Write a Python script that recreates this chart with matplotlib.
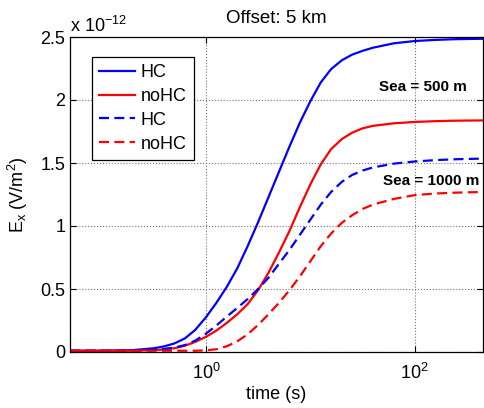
import matplotlib
matplotlib.use("Agg")
import matplotlib.pyplot as plt

# Transient Ex response, offset 5 km (values in units of 1e-12 V/m^2)
time_s = [0.05, 0.1, 0.2, 0.32, 0.4, 0.5, 0.63, 0.79, 1, 1.26, 1.58, 2, 2.51,
          3.16, 3.98, 5.01, 6.31, 7.94, 10, 12.6, 15.8, 20, 25.1, 31.6, 39.8,
          63.1, 100, 158, 251, 450]

hc_500 = [0.01, 0.01, 0.015, 0.03, 0.045, 0.068, 0.108, 0.175, 0.275, 0.39,
          0.515, 0.665, 0.84, 1.03, 1.23, 1.43, 1.63, 1.82, 1.99, 2.14, 2.245,
          2.315, 2.36, 2.39, 2.415, 2.45, 2.468, 2.477, 2.483, 2.486]
nohc_500 = [0.01, 0.01, 0.01, 0.015, 0.02, 0.03, 0.05, 0.08, 0.12, 0.17, 0.23,
            0.3, 0.38, 0.49, 0.63, 0.79, 0.96, 1.15, 1.33, 1.49, 1.61, 1.69,
            1.74, 1.775, 1.795, 1.815, 1.826, 1.832, 1.836, 1.838]
hc_1000 = [0.01, 0.01, 0.012, 0.018, 0.025, 0.035, 0.055, 0.09, 0.145, 0.21,
           0.28, 0.35, 0.42, 0.5, 0.59, 0.7, 0.81, 0.93, 1.05, 1.17, 1.27,
           1.35, 1.405, 1.44, 1.465, 1.495, 1.512, 1.523, 1.53, 1.535]
nohc_1000 = [0.01, 0.01, 0.01, 0.01, 0.01, 0.01, 0.01, 0.01, 0.013, 0.022,
             0.045, 0.085, 0.14, 0.215, 0.3, 0.39, 0.49, 0.6, 0.72, 0.84, 0.94,
             1.025, 1.085, 1.135, 1.17, 1.215, 1.245, 1.258, 1.265, 1.27]

y_ticks = [0, 0.5, 1, 1.5, 2, 2.5]
y_tick_labels = ["0", "0.5", "1", "1.5", "2", "2.5"]
x_ticks = [1, 100]

plt.rcParams["font.family"] = ["Liberation Sans", "DejaVu Sans"]
plt.rcParams["mathtext.fontset"] = "custom"
plt.rcParams["mathtext.rm"] = "Liberation Sans"
plt.rcParams["mathtext.it"] = "Liberation Sans"

fig = plt.figure(figsize=(4.85, 4.08), dpi=100)
ax = fig.add_axes([70 / 485, 1 - 352 / 408, 413 / 485, 315 / 408])

lw = 1.6
dash = (0, (4.5, 2.4))
ax.plot(time_s, hc_500, color=(0, 0, 1), lw=lw, label="HC")
ax.plot(time_s, nohc_500, color=(1, 0, 0), lw=lw, label="noHC")
ax.plot(time_s, hc_1000, color=(0, 0, 1), lw=lw, ls=dash, label="HC")
ax.plot(time_s, nohc_1000, color=(1, 0, 0), lw=lw, ls=dash, label="noHC")

ax.set_xscale("log")
ax.set_xlim(0.05, 450)
ax.set_ylim(0, 2.5)
ax.set_xticks(x_ticks)
ax.minorticks_off()
ax.set_yticks(y_ticks)
ax.set_yticklabels(y_tick_labels)
ax.tick_params(direction="in", top=True, right=True, length=4, labelsize=13,
               width=0.8)
ax.tick_params(axis="x", pad=8)
for s in ax.spines.values():
    s.set_linewidth(0.9)

ax.grid(True, ls=":", color="0.45", lw=0.8)

ax.set_xlabel("time (s)", fontsize=13, labelpad=2)
ax.set_ylabel("E$_\\mathregular{x}$ (V/m$^2$)", fontsize=13, labelpad=7)
ax.set_title("Offset: 5 km", fontsize=13.5, pad=10)
ax.text(0.0, 1.016, "x 10$^{-12}$", transform=ax.transAxes, fontsize=13,
        ha="left", va="baseline")

# depth labels
ax.text(45, 2.10, "Sea = 500 m", fontsize=11, fontweight="bold", va="center")
ax.text(50, 1.357, "Sea = 1000 m", fontsize=11, fontweight="bold", va="center")

leg = ax.legend(loc="upper left", bbox_to_anchor=(0.053, 0.937), fontsize=13,
                handlelength=2.0, labelspacing=0.38, handletextpad=0.3,
                borderaxespad=0, fancybox=False, framealpha=1,
                edgecolor="black", borderpad=0.4)
leg.get_frame().set_linewidth(0.9)

fig.savefig("out.png", dpi=100)
